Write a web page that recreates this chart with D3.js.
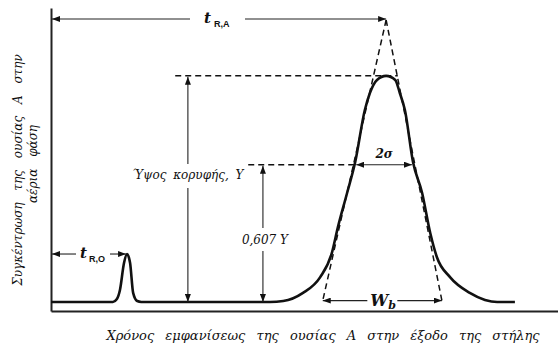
<!DOCTYPE html>
<html>
<head>
<meta charset="utf-8">
<script src="https://cdn.jsdelivr.net/npm/d3@7"></script>
<style>
  body { margin: 0; background: #fff; }
</style>
</head>
<body>
<div id="chart"></div>
<script>
// --- Data ---
// chromatogram trace (time in arbitrary units, signal in % of peak A)
const traceTime   = [0, 12.2, 13.0, 13.6, 14.4, 15.0, 15.6, 16.2, 17.0, 17.8, 43.2, 45.8, 49.7, 53.1, 55.4, 56.6, 58.4, 60.0, 61.9, 62.9, 64.3, 66.1, 67.9, 68.8, 69.8, 71.4, 73.2, 74.8, 76.1, 78.7, 82.6, 85.6, 88.0, 91.5];
const traceSignal = [0, 0, 1.3, 5.3, 17.2, 21.2, 17.2, 4.0, 0.4, 0, 0, 0.4, 4.0, 11.0, 21.7, 33.2, 48.2, 61.9, 84.9, 92.4, 98.2, 100, 98.2, 92.4, 84.9, 61.9, 48.2, 30.5, 19.9, 11.0, 4.0, 0.9, 0, 0];

const retentionTimes = [15.0, 66.1];   // t R,O  and  t R,A
const peakHeights    = [21.2, 100];    // height of the two peaks
const inflectionTimes = [60.0, 71.4];  // 2σ  width at 0.607 Y
const baseWidthEdges = [53.6, 77.1];   // W b  (tangents meet the baseline)
const tangentApex    = [66.1, 124.7];  // tangents cross above the peak
const inflectionRatio = 0.607;

const xTitle = "Χρόνος εμφανίσεως της ουσίας Α στην έξοδο της στήλης";
const yTitle = ["Συγκέντρωση της ουσίας Α στην", "αέρια φάση"];

const serif = "'DejaVu Serif', 'Liberation Serif', serif";
const sans = "'Liberation Sans', 'DejaVu Sans', sans-serif";

// --- Setup ---
const width = 558, height = 351;

const svg = d3.select("#chart").append("svg")
    .attr("width", width)
    .attr("height", height);

const x = d3.scaleLinear().domain([0, 100]).range([51, 558]);
const y = d3.scaleLinear().domain([-4, 130]).range([311, 8]);

const defs = svg.append("defs");
defs.append("marker")
    .attr("id", "arrow")
    .attr("markerUnits", "userSpaceOnUse")
    .attr("markerWidth", 8).attr("markerHeight", 6)
    .attr("refX", 8).attr("refY", 3)
    .attr("orient", "auto-start-reverse")
  .append("path")
    .attr("d", "M0,0 L8,3 L0,6 Z")
    .attr("fill", "#111");

// axes
svg.append("g")
    .attr("transform", `translate(0, ${y(-4)})`)
    .call(d3.axisBottom(x).ticks(0).tickSizeOuter(0))
    .call(g => g.select(".domain").attr("stroke", "#222").attr("stroke-width", 2));

svg.append("g")
    .attr("transform", `translate(${x(0)}, 0)`)
    .call(d3.axisLeft(y).ticks(0).tickSizeOuter(0))
    .call(g => g.select(".domain").attr("stroke", "#222").attr("stroke-width", 2));

// helpers
function arrowLine(x1, y1, x2, y2, start, end) {
    svg.append("line")
        .attr("x1", x1).attr("y1", y1).attr("x2", x2).attr("y2", y2)
        .attr("stroke", "#222").attr("stroke-width", 1.1)
        .attr("marker-start", start ? "url(#arrow)" : null)
        .attr("marker-end", end ? "url(#arrow)" : null);
}
function dashed(x1, y1, x2, y2) {
    svg.append("line")
        .attr("x1", x1).attr("y1", y1).attr("x2", x2).attr("y2", y2)
        .attr("stroke", "#111").attr("stroke-width", 1.5)
        .attr("stroke-dasharray", "6,4");
}
function label(px, py, str, size, anchor) {
    return svg.append("text")
        .attr("x", px).attr("y", py)
        .attr("text-anchor", anchor || "start")
        .attr("fill", "#111")
        .style("font-family", serif)
        .style("font-size", size + "px")
        .style("font-style", "italic")
        .text(str);
}

const [tRO, tRA] = retentionTimes;
const Y = peakHeights[1];
const yInfl = inflectionRatio * Y;

// dashed guides
dashed(x(24.5), y(Y), x(68.4), y(Y));
dashed(x(38.9), y(yInfl), x(inflectionTimes[0]), y(yInfl));
dashed(x(tangentApex[0]), y(tangentApex[1]), x(baseWidthEdges[0]), y(0.6));
dashed(x(tangentApex[0]), y(tangentApex[1]), x(baseWidthEdges[1]), y(0.6));

// chromatogram trace
const line = d3.line()
    .x((d, i) => x(traceTime[i]))
    .y(d => y(d))
    .curve(d3.curveMonotoneX);

svg.append("path")
    .datum(traceSignal)
    .attr("d", line)
    .attr("fill", "none")
    .attr("stroke", "#111")
    .attr("stroke-width", 2.6)
    .attr("stroke-linejoin", "round");

// t R,A
const yTop = 19;
arrowLine(x(0) + 1, yTop, 190, yTop, true, false);
arrowLine(245, yTop, x(tRA), yTop, false, true);
label(204, yTop + 4, "t", 15).style("font-weight", "bold")
  .append("tspan").attr("dx", 3).attr("dy", 4)
    .style("font-size", "9px").style("font-style", "normal")
    .style("font-family", sans)
    .text("R,A");

// t R,O
const yRO = y(peakHeights[0]);
arrowLine(x(0) + 1, yRO, 76, yRO, true, false);
arrowLine(110, yRO, x(tRO) - 1, yRO, false, true);
label(80, yRO + 4, "t", 15).style("font-weight", "bold")
  .append("tspan").attr("dx", 2).attr("dy", 4)
    .style("font-size", "9px").style("font-style", "normal")
    .style("font-family", sans)
    .text("R,O");

// peak height Y
const xY = x(27.0);
arrowLine(xY, 164, xY, y(Y) + 1, false, true);
arrowLine(xY, 188, xY, y(0), false, true);
label(xY, 179, "Ύψος κορυφής, Y", 12, "middle").style("word-spacing", "3px");

// 0.607 Y
const xY6 = x(41.8);
arrowLine(xY6, 228, xY6, y(yInfl) + 1, false, true);
arrowLine(xY6, 251, xY6, y(0), false, true);
label(xY6 + 2, 244, "0,607 Y", 12, "middle");

// 2σ
arrowLine(x(inflectionTimes[0]) + 1, y(yInfl), x(inflectionTimes[1]) - 1, y(yInfl), true, true);
label(x((inflectionTimes[0] + inflectionTimes[1]) / 2), y(yInfl) - 7, "2σ", 12, "middle")
    .style("font-weight", "bold");

// W b
const yWb = y(0.6);
const xWbMid = x((baseWidthEdges[0] + baseWidthEdges[1]) / 2);
arrowLine(xWbMid - 15, yWb, x(baseWidthEdges[0]), yWb, false, true);
arrowLine(xWbMid + 15, yWb, x(baseWidthEdges[1]), yWb, false, true);
label(xWbMid - 12, yWb + 5, "W", 16).style("font-weight", "bold")
  .append("tspan").attr("dy", 3)
    .style("font-size", "11px")
    .text("b");

// axis titles
label(323, 340, xTitle, 13, "middle").style("word-spacing", "7px");

label(0, 0, yTitle[0], 12, "middle")
    .attr("transform", "translate(22, 170) rotate(-90)")
    .style("word-spacing", "8px");

label(0, 0, yTitle[1], 12, "middle")
    .attr("transform", "translate(37, 164) rotate(-90)")
    .style("word-spacing", "8px");
</script>
</body>
</html>
